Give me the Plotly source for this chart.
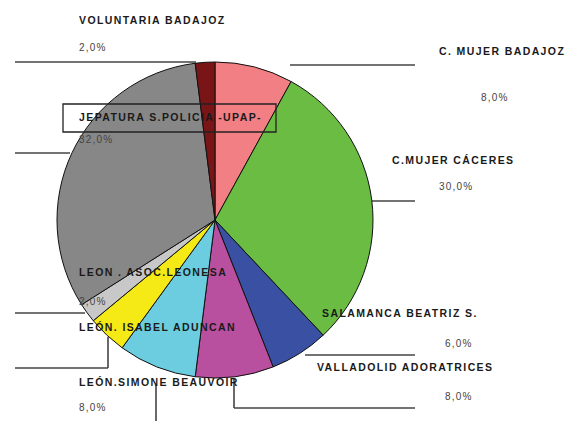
import plotly.graph_objects as go

W, H = 571, 421

# Data (clockwise from 12 o'clock)
labels = ["C. MUJER BADAJOZ", "C.MUJER CÁCERES", "SALAMANCA BEATRIZ S.",
          "VALLADOLID ADORATRICES", "LEÓN.SIMONE BEAUVOIR", "LEÓN. ISABEL ADUNCAN",
          "LEON . ASOC.LEONESA", "JEPATURA S.POLICIA -UPAP-", "VOLUNTARIA BADAJOZ"]
values = [8, 30, 6, 8, 8, 4, 2, 32, 2]
pct_text = ["8,0%", "30,0%", "6,0%", "8,0%", "8,0%", "", "2,0%", "32,0%", "2,0%"]
colors = ["#f27f84", "#6abd42", "#3a50a2", "#b8509f", "#6ccde0", "#f5ea16",
          "#c8c8c8", "#878787", "#7a1517"]

def px(x):
    return x / W

def py(y):
    return 1 - y / H

cx, cy, r = 215, 220, 158

fig = go.Figure(go.Pie(
    labels=labels, values=values, sort=False, direction="clockwise", rotation=0,
    marker=dict(colors=colors, line=dict(color="#111111", width=1)),
    textinfo="none", hoverinfo="label+percent", showlegend=False,
    domain=dict(x=[px(cx - r), px(cx + r)], y=[py(cy + r), py(cy - r)]),
))

name_pos = {
    8: (77, 20),
    7: (77, 117),
    0: (437, 51),
    1: (390, 160),
    2: (320, 313),
    3: (315, 367),
    6: (77, 272),
    5: (77, 327),
    4: (77, 382),
}
pct_pos = {
    8: (77, 47),
    7: (77, 139),
    0: (479, 97),
    1: (437, 187),
    2: (443, 343),
    3: (443, 396),
    6: (77, 301),
    4: (77, 407),
}

FONT = "Liberation Sans, Arial"
annotations = []
for i, (x, y) in name_pos.items():
    annotations.append(dict(
        x=px(x), y=py(y), xref="paper", yref="paper", xanchor="left", yanchor="middle",
        align="left", text="<b>" + labels[i] + "</b>", showarrow=False,
        font=dict(family=FONT, size=10.5, color="#1a1a1a")))
for i, (x, y) in pct_pos.items():
    annotations.append(dict(
        x=px(x), y=py(y), xref="paper", yref="paper", xanchor="left", yanchor="middle",
        align="left", text=pct_text[i], showarrow=False,
        font=dict(family=FONT, size=10, color="#444444")))

line_style = dict(color="#444444", width=1.6)
segments = [
    (15, 62, 196, 62), (290, 65, 415, 65),
    (15, 153, 70, 153),
    (372, 201, 415, 201),
    (15, 313, 85, 313),
    (108, 337, 108, 368), (15, 368, 108, 368),
    (156, 385, 156, 421),
    (305, 355, 415, 355),
    (234, 378, 234, 408), (234, 408, 415, 408),
]
shapes = [dict(type="line", xref="paper", yref="paper",
               x0=px(a), y0=py(b), x1=px(c), y1=py(d), line=line_style, layer="below")
          for a, b, c, d in segments]
shapes.append(dict(type="rect", xref="paper", yref="paper",
                   x0=px(63), y0=py(104), x1=px(276), y1=py(132),
                   line=dict(color="#222222", width=1.3), layer="above"))

fig.update_layout(
    width=W, height=H, margin=dict(l=0, r=0, t=0, b=0),
    paper_bgcolor="white", plot_bgcolor="white",
    annotations=annotations, shapes=shapes,
)

post = """
document.body.style.margin='0';document.body.style.padding='0';
document.querySelectorAll('.annotation-text').forEach(function(t){
  t.style.letterSpacing = (t.textContent.indexOf('%') >= 0) ? '1.2px' : '1.4px';
});
"""

fig.write_html("out.html", post_script=post, config={"displayModeBar": False})
